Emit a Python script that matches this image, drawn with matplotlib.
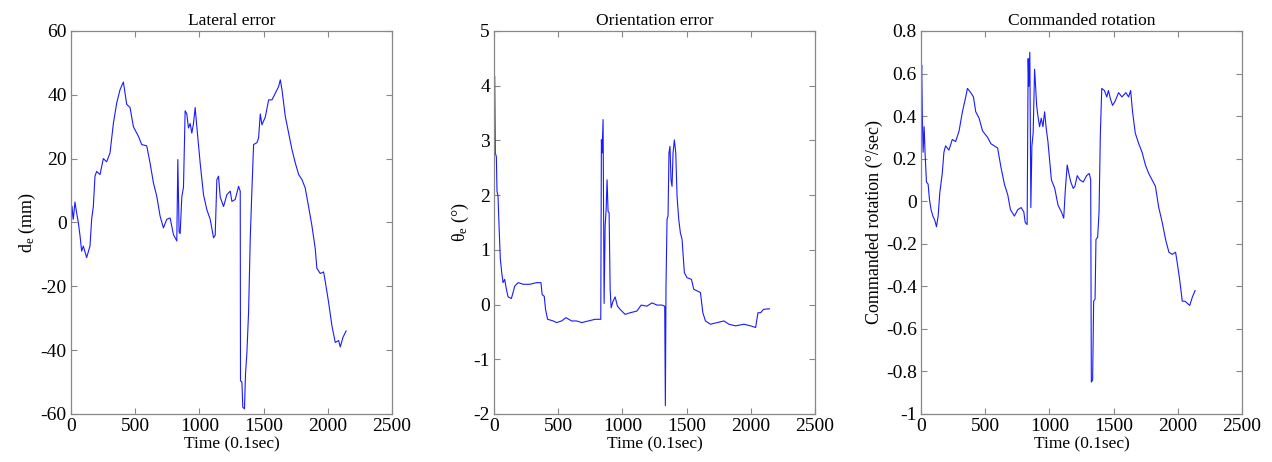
import matplotlib
matplotlib.use('Agg')
import matplotlib.pyplot as plt
import numpy as np

plt.rcParams['font.family'] = ['Liberation Serif', 'DejaVu Serif']
plt.rcParams['mathtext.fontset'] = 'custom'
plt.rcParams['mathtext.rm'] = 'Liberation Serif'
plt.rcParams['mathtext.it'] = 'Liberation Serif'
plt.rcParams['axes.unicode_minus'] = False

# lateral error d_e (mm)
lat_t = [0, 8, 18, 31, 44, 57, 70, 83, 96, 122, 148, 161, 174, 187, 200, 226, 252, 278, 304, 330,
         356, 382, 408, 421, 434, 460, 486, 525, 551, 590, 616, 642, 668, 694, 720, 746, 772, 798, 824, 832,
         842, 850, 863, 876, 889, 902, 915, 928, 941, 954, 967, 980, 1006, 1032, 1058, 1084, 1110, 1123, 1136, 1149,
         1162, 1188, 1214, 1240, 1253, 1279, 1305, 1318, 1320, 1331, 1338, 1351, 1359, 1370, 1383, 1396, 1409, 1422, 1448, 1461,
         1474, 1487, 1513, 1539, 1565, 1591, 1617, 1630, 1643, 1669, 1695, 1721, 1747, 1773, 1799, 1824, 1850, 1876, 1902, 1915,
         1941, 1967, 1980, 2006, 2032, 2058, 2084, 2097, 2118, 2142]
lat_d = [-4.3, 5.1, 1, 6.4, 3, 0, -4, -9, -7.4, -11, -7.4, 1, 5, 14.5, 16, 15, 20, 19, 21.8, 31,
         37.4, 41.6, 44, 40.5, 37, 36, 30, 27, 24.4, 24, 18.6, 12.4, 8.2, 2, -1.7, 1, 1.4, -3.8, -5.8, 19.7,
         -3, -3.5, 8, 11, 35, 34, 29.6, 31, 28, 31, 36, 30, 18.6, 8.7, 4, 1, -4.8, -4, 13.4, 14.5,
         8, 5, 8.7, 9.8, 6.6, 7.2, 11.3, 9.8, -49.6, -50, -57.9, -58.4, -47.5, -40.7, -28, -5, 10.3, 24.4, 25, 26.5,
         34, 30.6, 33, 38.4, 38.4, 40.5, 42.6, 44.7, 41.6, 33.2, 28, 22.8, 18.6, 15, 13.4, 10.8, 5, -1, -8.2, -14.4,
         -16, -15.5, -18.5, -25, -32.4, -37.6, -37, -39, -36, -34]

# orientation error theta_e (deg)
ori_t = [5, 10, 18, 23, 31, 39, 49, 60, 70, 83, 96, 109, 135, 162, 188, 227, 279, 331, 365, 375,
         391, 401, 417, 461, 487, 526, 560, 604, 643, 683, 735, 787, 831, 836, 841, 849, 857, 865, 873, 880,
         888, 896, 904, 912, 925, 943, 961, 982, 1021, 1060, 1112, 1146, 1190, 1230, 1269, 1308, 1329, 1334, 1339, 1347,
         1355, 1362, 1370, 1378, 1386, 1394, 1404, 1415, 1425, 1438, 1451, 1464, 1482, 1503, 1537, 1555, 1581, 1607, 1626, 1646,
         1685, 1738, 1790, 1829, 1881, 1946, 1998, 2037, 2055, 2076, 2097, 2128, 2145]
ori_d = [4.17, 2.77, 2.7, 2.07, 1.98, 1.43, 0.83, 0.58, 0.4, 0.46, 0.28, 0.14, 0.11, 0.34, 0.4, 0.37, 0.37, 0.4, 0.4, 0.18,
         0.15, -0.09, -0.27, -0.3, -0.33, -0.3, -0.24, -0.3, -0.3, -0.33, -0.3, -0.27, -0.27, 3.01, 2.77, 3.38, 0.02, 1.43, 1.74, 2.28,
         1.7, 1.68, 0.28, -0.06, 0.05, 0.14, -0.03, -0.09, -0.18, -0.15, -0.12, -0.01, -0.03, 0.03, -0.01, -0.01, -0.03, -1.85, 0.34, 1.56,
         1.62, 2.77, 2.89, 2.28, 2.16, 2.77, 3.01, 2.77, 1.98, 1.56, 1.31, 1.19, 0.58, 0.49, 0.46, 0.28, 0.25, 0.22, -0.15, -0.3,
         -0.36, -0.33, -0.3, -0.36, -0.39, -0.36, -0.39, -0.42, -0.15, -0.15, -0.09, -0.08, -0.08]

# commanded rotation (deg/sec)
rot_t = [0, 5, 10, 16, 24, 31, 42, 55, 65, 78, 92, 107, 120, 133, 146, 165, 178, 191, 217, 243,
         269, 296, 322, 348, 361, 387, 408, 426, 452, 479, 518, 544, 570, 596, 622, 649, 675, 696, 727, 753,
         779, 800, 811, 826, 834, 839, 847, 855, 863, 873, 884, 892, 900, 910, 923, 936, 949, 962, 975, 988,
         1015, 1041, 1067, 1093, 1111, 1124, 1138, 1151, 1166, 1185, 1198, 1216, 1237, 1263, 1289, 1310, 1321, 1326, 1336, 1344,
         1355, 1362, 1375, 1386, 1396, 1407, 1428, 1446, 1459, 1475, 1491, 1511, 1538, 1564, 1595, 1616, 1632, 1647, 1668, 1695,
         1721, 1747, 1773, 1799, 1825, 1851, 1878, 1904, 1930, 1956, 1982, 1995, 2014, 2034, 2055, 2074, 2092, 2113, 2134]
rot_d = [0.54, 0.64, 0.4, 0.23, 0.35, 0.23, 0.09, 0.08, 0.01, -0.04, -0.07, -0.09, -0.12, -0.07, 0.04, 0.13, 0.23, 0.26, 0.24, 0.29,
         0.28, 0.33, 0.42, 0.49, 0.53, 0.51, 0.49, 0.42, 0.39, 0.33, 0.3, 0.27, 0.26, 0.25, 0.16, 0.08, 0.03, -0.04, -0.07, -0.04,
         -0.03, -0.05, -0.1, -0.11, 0.67, 0.54, 0.7, -0.03, 0.26, 0.32, 0.62, 0.54, 0.45, 0.4, 0.35, 0.39, 0.35, 0.42, 0.34, 0.28,
         0.1, 0.06, -0.02, -0.05, -0.08, 0.06, 0.17, 0.13, 0.09, 0.06, 0.07, 0.12, 0.1, 0.09, 0.12, 0.13, 0.1, -0.85, -0.84, -0.47,
         -0.46, -0.18, -0.17, -0.05, 0.31, 0.53, 0.52, 0.49, 0.52, 0.48, 0.45, 0.47, 0.51, 0.49, 0.51, 0.49, 0.52, 0.42, 0.32, 0.27,
         0.23, 0.17, 0.13, 0.1, 0.07, -0.03, -0.1, -0.18, -0.24, -0.25, -0.24, -0.29, -0.37, -0.47, -0.47, -0.48, -0.49, -0.45, -0.42]

titles = ['Lateral error', 'Orientation error', 'Commanded rotation']
ylabels = [r'd$_\mathregular{e}$ (mm)', r'$\mathregular{\theta_e}$ ($\mathregular{\degree}$)',
           'Commanded rotation (\u00b0/sec)']
ylims = [(-60, 60), (-2, 5), (-1, 0.8)]
yticks = [np.arange(-60, 61, 20), np.arange(-2, 6, 1), np.round(np.arange(-1, 0.81, 0.2), 1)]
series = [(lat_t, lat_d), (ori_t, ori_d), (rot_t, rot_d)]
lefts = [0.0558, 0.3884, 0.7241]

fig = plt.figure(figsize=(12.72, 4.62), dpi=100)
for i in range(3):
  ax = fig.add_axes([lefts[i], 0.104, 0.2524, 0.829])
  t, d = series[i]
  ax.plot(t, d, color='#1a1aff', linewidth=0.8)
  ax.set_xlim(0, 2500)
  ax.set_ylim(*ylims[i])
  ax.set_xticks(np.arange(0, 2501, 500))
  ax.set_yticks(yticks[i])
  if i == 2:
    ax.set_yticklabels(['-1', '-0.8', '-0.6', '-0.4', '-0.2', '0', '0.2', '0.4', '0.6', '0.8'])
  ax.tick_params(direction='in', top=True, right=True, length=4, width=0.8, colors='#888888',
                 labelcolor='black', labelsize=14, pad=3)
  for s in ax.spines.values():
    s.set_color('#888888')
    s.set_linewidth(0.9)
  ax.set_title(titles[i], fontsize=12.5, pad=4)
  ax.set_xlabel('Time (0.1sec)', fontsize=12.5, labelpad=1)
  ax.set_ylabel(ylabels[i], fontsize=13, labelpad=2)

fig.savefig('out.png', dpi=100)
